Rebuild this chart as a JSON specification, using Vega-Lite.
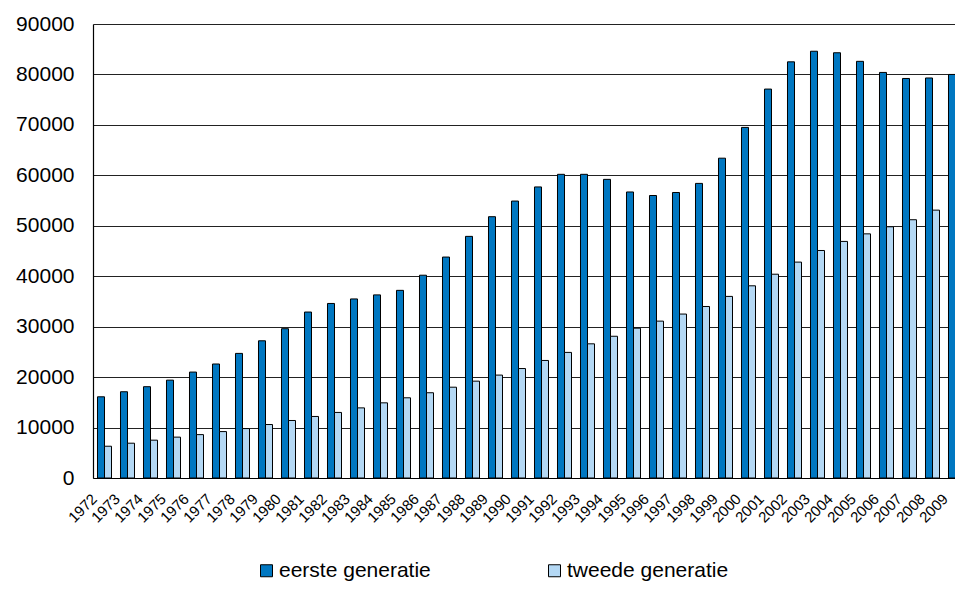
{
  "$schema": "https://vega.github.io/schema/vega-lite/v6.json",
  "autosize": {"type": "none"},
  "padding": {"left": 93, "top": 24, "right": 0, "bottom": 116},
  "width": 862,
  "height": 454,
  "background": "white",
  "config": {
    "view": {"stroke": null},
    "font": "Liberation Sans",
    "axis": {"labelFont": "Liberation Sans", "labelColor": "#000000", "domainColor": "#000000", "domainWidth": 1.2}
  },
  "data": {
    "values": [
      {"year": "1972", "eerste generatie": 16100, "tweede generatie": 6300},
      {"year": "1973", "eerste generatie": 17100, "tweede generatie": 6900},
      {"year": "1974", "eerste generatie": 18100, "tweede generatie": 7500},
      {"year": "1975", "eerste generatie": 19400, "tweede generatie": 8100},
      {"year": "1976", "eerste generatie": 21000, "tweede generatie": 8600},
      {"year": "1977", "eerste generatie": 22600, "tweede generatie": 9200},
      {"year": "1978", "eerste generatie": 24700, "tweede generatie": 9800},
      {"year": "1979", "eerste generatie": 27200, "tweede generatie": 10600},
      {"year": "1980", "eerste generatie": 29600, "tweede generatie": 11400},
      {"year": "1981", "eerste generatie": 32900, "tweede generatie": 12200},
      {"year": "1982", "eerste generatie": 34600, "tweede generatie": 13000},
      {"year": "1983", "eerste generatie": 35500, "tweede generatie": 13900},
      {"year": "1984", "eerste generatie": 36300, "tweede generatie": 14900},
      {"year": "1985", "eerste generatie": 37200, "tweede generatie": 15900},
      {"year": "1986", "eerste generatie": 40200, "tweede generatie": 16900},
      {"year": "1987", "eerste generatie": 43800, "tweede generatie": 18000},
      {"year": "1988", "eerste generatie": 47900, "tweede generatie": 19200},
      {"year": "1989", "eerste generatie": 51800, "tweede generatie": 20400},
      {"year": "1990", "eerste generatie": 54900, "tweede generatie": 21700},
      {"year": "1991", "eerste generatie": 57700, "tweede generatie": 23300},
      {"year": "1992", "eerste generatie": 60200, "tweede generatie": 24900},
      {"year": "1993", "eerste generatie": 60200, "tweede generatie": 26600},
      {"year": "1994", "eerste generatie": 59200, "tweede generatie": 28100},
      {"year": "1995", "eerste generatie": 56700, "tweede generatie": 29700},
      {"year": "1996", "eerste generatie": 56000, "tweede generatie": 31100},
      {"year": "1997", "eerste generatie": 56600, "tweede generatie": 32500},
      {"year": "1998", "eerste generatie": 58400, "tweede generatie": 34000},
      {"year": "1999", "eerste generatie": 63400, "tweede generatie": 36000},
      {"year": "2000", "eerste generatie": 69500, "tweede generatie": 38100},
      {"year": "2001", "eerste generatie": 77100, "tweede generatie": 40400},
      {"year": "2002", "eerste generatie": 82500, "tweede generatie": 42800},
      {"year": "2003", "eerste generatie": 84600, "tweede generatie": 45100},
      {"year": "2004", "eerste generatie": 84300, "tweede generatie": 46900},
      {"year": "2005", "eerste generatie": 82600, "tweede generatie": 48400},
      {"year": "2006", "eerste generatie": 80400, "tweede generatie": 49800},
      {"year": "2007", "eerste generatie": 79200, "tweede generatie": 51200},
      {"year": "2008", "eerste generatie": 79300, "tweede generatie": 53100},
      {"year": "2009", "eerste generatie": 80000, "tweede generatie": 55200}
    ]
  },
  "transform": [
    {"fold": ["eerste generatie", "tweede generatie"], "as": ["generatie", "aantal"]}
  ],
  "mark": {"type": "bar", "stroke": "#000000", "strokeWidth": 1},
  "encoding": {
    "x": {
      "field": "year",
      "type": "nominal",
      "scale": {"range": [0, 874], "paddingInner": 0.39, "paddingOuter": 0.195},
      "axis": {
        "title": null,
        "labelAngle": -45,
        "labelAlign": "right",
        "labelBaseline": "top",
        "labelFontSize": 15,
        "labelPadding": 13,
        "labelOffset": -15,
        "ticks": false,
        "grid": false,
        "labelOverlap": false
      }
    },
    "xOffset": {
      "field": "generatie",
      "type": "nominal",
      "sort": ["eerste generatie", "tweede generatie"],
      "scale": {"paddingInner": 0, "paddingOuter": 0}
    },
    "y": {
      "field": "aantal",
      "type": "quantitative",
      "scale": {"domain": [0, 90000], "nice": false},
      "axis": {
        "title": null,
        "values": [0, 10000, 20000, 30000, 40000, 50000, 60000, 70000, 80000, 90000],
        "format": "d",
        "labelFontSize": 21,
        "labelPadding": 19,
        "ticks": false,
        "grid": true,
        "gridColor": "#222222",
        "gridWidth": 1.2
      }
    },
    "color": {
      "field": "generatie",
      "type": "nominal",
      "sort": ["eerste generatie", "tweede generatie"],
      "scale": {"domain": ["eerste generatie", "tweede generatie"], "range": ["#0077c1", "#b4d8f4"]},
      "legend": {
        "title": null,
        "orient": "none",
        "legendX": 163,
        "legendY": 536,
        "direction": "horizontal",
        "columns": 2,
        "columnPadding": 113,
        "symbolType": "square",
        "symbolSize": 144,
        "symbolStrokeColor": "#000000",
        "symbolStrokeWidth": 1,
        "labelFontSize": 21,
        "labelColor": "#000000",
        "labelOffset": 2,
        "labelLimit": 300
      }
    }
  }
}
